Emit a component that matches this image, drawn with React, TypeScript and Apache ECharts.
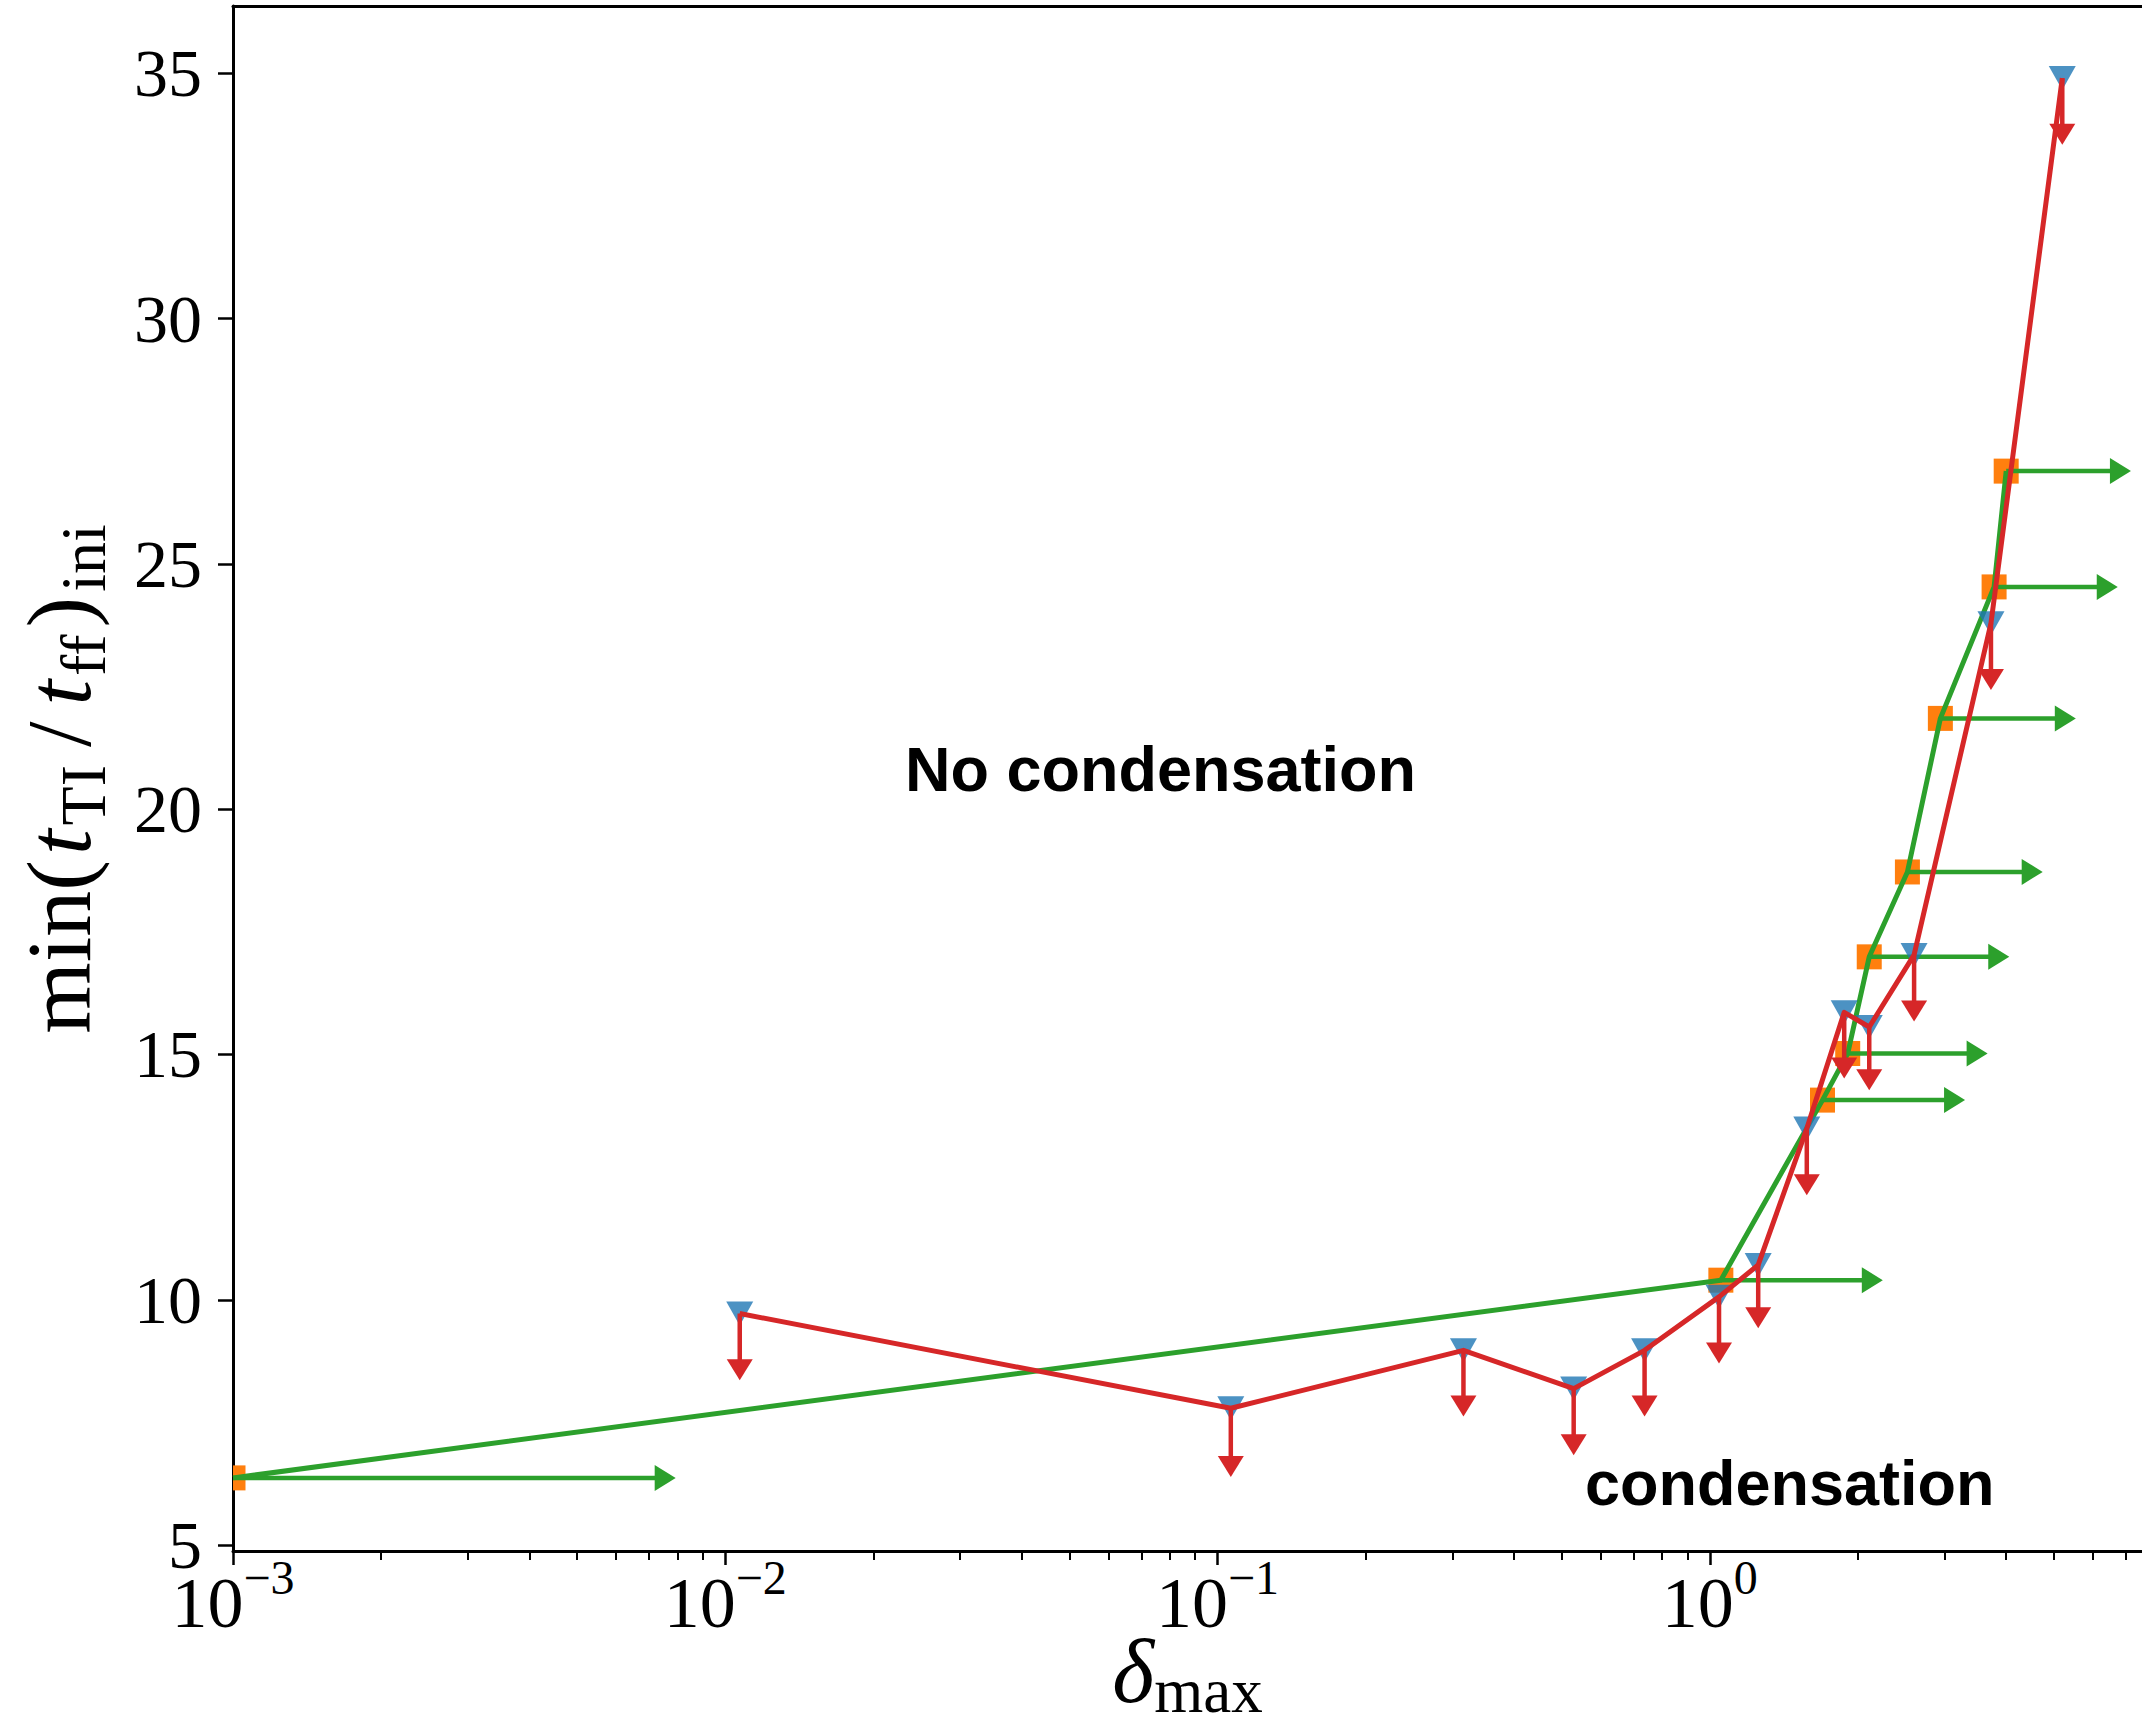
import React, { useEffect, useRef } from "react";
import * as echarts from "echarts";

// ---- data ----
// blue down-triangles (upper limits), joined by the red line
const blueX = [0.0107, 0.1064, 0.3159, 0.529, 0.737, 1.044, 1.254, 1.574, 1.875, 2.108, 2.6, 3.725, 5.2];
const blueY = [9.72, 7.79, 8.97, 8.19, 8.97, 10.06, 10.71, 13.49, 15.86, 15.56, 17.03, 23.79, 34.9];
const redArrowTipY = [8.36, 6.39, 7.62, 6.83, 7.62, 8.7, 9.42, 12.13, 14.51, 14.27, 15.67, 22.43, 33.54];

// orange squares (lower limits in x), joined by the green line
const orangeX = [0.001, 1.053, 1.694, 1.906, 2.108, 2.52, 2.94, 3.78, 4.0];
const orangeY = [6.37, 10.4, 14.07, 15.02, 16.99, 18.72, 21.85, 24.53, 26.89];
const greenArrowTipX = [0.00793, 2.246, 3.3, 3.667, 4.058, 4.745, 5.54, 6.74, 7.17];

// axes
const xMajorTicks = [0.001, 0.01, 0.1, 1];
const xMinorTicks = [
  0.002, 0.003, 0.004, 0.005, 0.006, 0.007, 0.008, 0.009,
  0.02, 0.03, 0.04, 0.05, 0.06, 0.07, 0.08, 0.09,
  0.2, 0.3, 0.4, 0.5, 0.6, 0.7, 0.8, 0.9,
  2, 3, 4, 5, 6, 7,
];
const yTicks = [5, 10, 15, 20, 25, 30, 35];
const xMin = 0.001;
const xMax = 7.55;
const yMin = 4.88;
const yMax = 36.37;

const annotations = [
  { text: "No condensation", x: 905, y: 769 },
  { text: "condensation", x: 1585, y: 1483 },
];

const C_BLUE = "#1f77b4";
const C_ORANGE = "#ff7f0e";
const C_GREEN = "#2ca02c";
const C_RED = "#d62728";
const SERIF = "'Liberation Serif', 'DejaVu Serif', serif";

export default function App() {
  const ref = useRef<HTMLDivElement>(null);

  useEffect(() => {
    if (!ref.current) return;
    const chart = echarts.init(ref.current, undefined, { renderer: "svg" });

    const supLabel = (v: number) => {
      const e = Math.round(Math.log10(v));
      const s = e < 0 ? "\u2212" + String(-e) : String(e);
      return "{b|10}{s|" + s + "}";
    };

    const option: any = {
      animation: false,
      backgroundColor: "#ffffff",
      grid: {
        left: 233,
        right: 0,
        top: 6,
        bottom: 176,
        containLabel: false,
        outerBoundsMode: "none",
      },
      xAxis: [
        {
          type: "log",
          logBase: 10,
          min: xMin,
          max: xMax,
          position: "bottom",
          name: "{d|\u03b4}{s|max}",
          nameLocation: "middle",
          nameGap: 75,
          nameMoveOverlap: false,
          nameTextStyle: {
            rich: {
              d: { fontFamily: SERIF, fontSize: 90, fontStyle: "italic", color: "#000", verticalAlign: "top" },
              s: { fontFamily: SERIF, fontSize: 63, color: "#000", verticalAlign: "bottom", padding: [33, 0, 0, 0] },
            },
          },
          axisLine: { show: true, onZero: false, lineStyle: { color: "#000", width: 3 } },
          axisTick: { show: true, inside: false, length: 14, customValues: xMajorTicks, lineStyle: { color: "#000", width: 2.5 } },
          axisLabel: {
            show: true,
            margin: 2,
            customValues: xMajorTicks,
            formatter: (v: number) => supLabel(v),
            rich: {
              b: { fontFamily: SERIF, fontSize: 72, color: "#000", verticalAlign: "bottom" },
              s: { fontFamily: SERIF, fontSize: 48, color: "#000", verticalAlign: "top", padding: [0, 0, 38, 0] },
            },
          },
          splitLine: { show: false },
          minorTick: { show: false },
        },
        {
          type: "log",
          logBase: 10,
          min: xMin,
          max: xMax,
          position: "bottom",
          axisLine: { show: false, onZero: false },
          axisTick: { show: true, inside: false, length: 9, customValues: xMinorTicks, lineStyle: { color: "#000", width: 2 } },
          axisLabel: { show: false },
          splitLine: { show: false },
        },
        {
          type: "value",
          min: 0,
          max: 1,
          position: "top",
          axisLine: { show: true, onZero: false, lineStyle: { color: "#000", width: 3 } },
          axisTick: { show: false },
          axisLabel: { show: false },
          splitLine: { show: false },
        },
      ],
      yAxis: [
        {
          type: "value",
          min: yMin,
          max: yMax,
          position: "left",
          name: "{m|min(}{i|t}{s|TI}{sl|/}{i|t}{s|ff}{m|)}{s|ini}",
          nameLocation: "middle",
          nameRotate: 90,
          nameGap: 118,
          nameMoveOverlap: false,
          nameTextStyle: {
            rich: {
              m: { fontFamily: SERIF, fontSize: 92, color: "#000", verticalAlign: "top", padding: [0, 3, 0, 3] },
              sl: { fontFamily: SERIF, fontSize: 92, color: "#000", verticalAlign: "top", padding: [0, 14, 0, 14] },
              i: { fontFamily: SERIF, fontSize: 92, fontStyle: "italic", color: "#000", verticalAlign: "top", padding: [0, 2, 0, 2] },
              s: { fontFamily: SERIF, fontSize: 64, color: "#000", verticalAlign: "bottom", padding: [38, 4, 0, 2] },
            },
          },
          axisLine: { show: true, onZero: false, lineStyle: { color: "#000", width: 3 } },
          axisTick: { show: true, inside: false, length: 15, customValues: yTicks, lineStyle: { color: "#000", width: 2.5 } },
          axisLabel: {
            show: true,
            margin: 31,
            customValues: yTicks,
            fontFamily: SERIF,
            fontSize: 68,
            color: "#000",
          },
          splitLine: { show: false },
        },
      ],
      series: [
        {
          name: "orange squares",
          type: "custom",
          xAxisIndex: 0,
          yAxisIndex: 0,
          clip: true,
          z: 2,
          data: orangeX.map((x, i) => [x, orangeY[i]]),
          encode: { x: 0, y: 1 },
          renderItem: (params: any, api: any) => {
            const p = api.coord([api.value(0), api.value(1)]);
            const s = 25;
            return {
              type: "rect",
              shape: { x: p[0] - s / 2, y: p[1] - s / 2, width: s, height: s },
              style: { fill: C_ORANGE },
            };
          },
        },
        {
          name: "green line",
          type: "line",
          xAxisIndex: 0,
          yAxisIndex: 0,
          z: 3,
          showSymbol: false,
          symbol: "none",
          data: orangeX.map((x, i) => [x, orangeY[i]]),
          lineStyle: { color: C_GREEN, width: 5, join: "round" },
        },
        {
          name: "green arrows",
          type: "custom",
          xAxisIndex: 0,
          yAxisIndex: 0,
          clip: false,
          z: 3,
          data: orangeX.map((x, i) => [x, orangeY[i], greenArrowTipX[i]]),
          encode: { x: [0, 2], y: 1 },
          renderItem: (params: any, api: any) => {
            const p0 = api.coord([api.value(0), api.value(1)]);
            const p1 = api.coord([api.value(2), api.value(1)]);
            const hl = 21;
            const hw = 13;
            return {
              type: "group",
              children: [
                {
                  type: "line",
                  shape: { x1: p0[0], y1: p0[1], x2: p1[0] - hl + 1, y2: p1[1] },
                  style: { stroke: C_GREEN, lineWidth: 4.5 },
                },
                {
                  type: "polygon",
                  shape: { points: [[p1[0] - hl, p1[1] - hw], [p1[0] - hl, p1[1] + hw], [p1[0], p1[1]]] },
                  style: { fill: C_GREEN },
                },
              ],
            };
          },
        },
        {
          name: "blue triangles",
          type: "scatter",
          xAxisIndex: 0,
          yAxisIndex: 0,
          z: 4,
          symbol: "triangle",
          symbolRotate: 180,
          symbolSize: [27, 24],
          itemStyle: { color: C_BLUE },
          data: blueX.map((x, i) => [x, blueY[i]]),
        },
        {
          name: "red line",
          type: "line",
          xAxisIndex: 0,
          yAxisIndex: 0,
          z: 5,
          showSymbol: false,
          symbol: "none",
          data: blueX.map((x, i) => [x, blueY[i]]),
          lineStyle: { color: C_RED, width: 5, join: "round" },
        },
        {
          name: "red arrows",
          type: "custom",
          xAxisIndex: 0,
          yAxisIndex: 0,
          clip: false,
          z: 5,
          data: blueX.map((x, i) => [x, blueY[i], redArrowTipY[i]]),
          encode: { x: 0, y: [1, 2] },
          renderItem: (params: any, api: any) => {
            const p0 = api.coord([api.value(0), api.value(1)]);
            const p1 = api.coord([api.value(0), api.value(2)]);
            const hl = 21;
            const hw = 13;
            return {
              type: "group",
              children: [
                {
                  type: "line",
                  shape: { x1: p0[0], y1: p0[1], x2: p1[0], y2: p1[1] - hl + 1 },
                  style: { stroke: C_RED, lineWidth: 4.5 },
                },
                {
                  type: "polygon",
                  shape: { points: [[p1[0] - hw, p1[1] - hl], [p1[0] + hw, p1[1] - hl], [p1[0], p1[1]]] },
                  style: { fill: C_RED },
                },
              ],
            };
          },
        },
      ],
      graphic: annotations.map((a) => ({
        type: "text",
        x: a.x,
        y: a.y,
        z: 10,
        style: {
          text: a.text,
          fill: "#000",
          font: "bold 63px 'Liberation Sans', Arial, sans-serif",
          align: "left",
          verticalAlign: "middle",
        },
      })),
    };

    chart.setOption(option);
    return () => {
      chart.dispose();
    };
  }, []);

  return (
    <div
      ref={ref}
      style={{ position: "fixed", left: 0, top: 0, width: 2142, height: 1727, background: "#fff" }}
    />
  );
}
